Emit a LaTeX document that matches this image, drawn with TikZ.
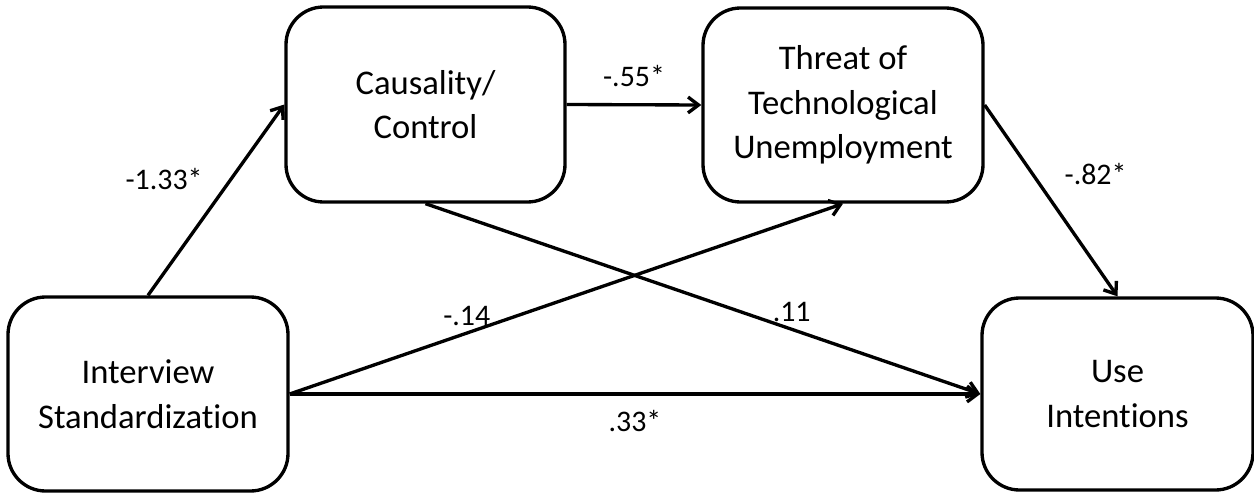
\documentclass[tikz,border=0pt]{standalone}
\usepackage{fontspec}
\setmainfont{Carlito}[Ligatures=NoCommon]
\usetikzlibrary{arrows.meta}

\begin{document}
\begin{tikzpicture}[
  var/.style={draw,line width=1.9pt,rounded corners=0.75cm,minimum width=5.6cm,
    minimum height=3.88cm,align=center,font=\fontsize{19.7}{25.4}\selectfont},
  link/.style={line width=1.9pt,-{Straight Barb[length=6pt,width=9pt]}},
  coef/.style={font=\fontsize{17}{20}\selectfont}
]
\useasboundingbox (0,0) rectangle (25.08,9.86);

% the four variables
\node[var] (inter) at (2.96,1.98) {Interview\\Standardization};
\node[var,minimum width=5.58cm,minimum height=3.9cm] (caus) at (8.51,7.77) {Causality/\\Control};
\node[var] (threat) at (16.86,7.76) {Threat of\\Technological\\Unemployment};
\node[var,minimum width=5.42cm,minimum height=3.84cm] (use) at (22.35,1.98) {Use\\Intentions};

% paths with their coefficients
\draw[link] (inter.north) -- node[coef,pos=0.61,left=12pt] {-1.33*} (caus.west);
\draw[link] (caus.east) -- node[coef,above=6pt] {-.55*} (threat.west);
\draw[link] (threat.east) -- node[coef,pos=0.36,right=14pt] {-.82*} (use.north);
\draw[link] (caus.south) -- node[coef,pos=0.66,above] {.11} (use.west);
\draw[link] (inter.east) -- node[coef,pos=0.32,above] {-.14} (threat.south);
\draw[link] (inter.east) -- node[coef,below=5pt] {.33*} (use.west);
\end{tikzpicture}
\end{document}
